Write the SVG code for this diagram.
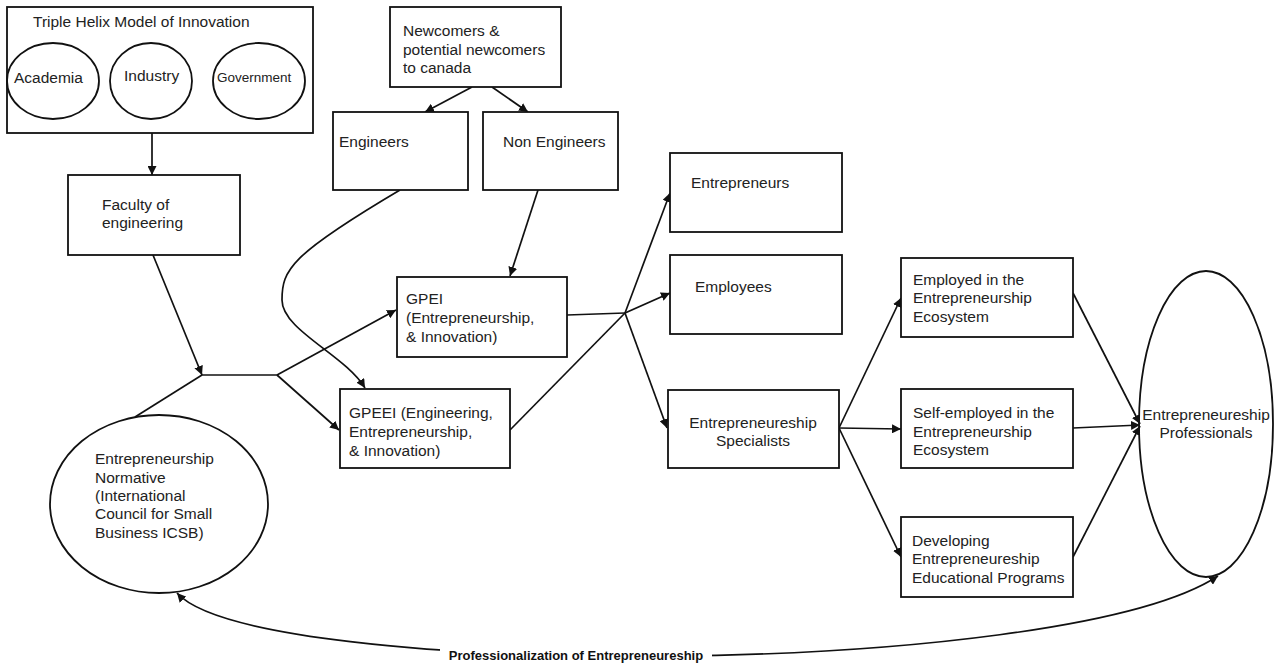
<svg xmlns="http://www.w3.org/2000/svg" width="1283" height="666" viewBox="0 0 1283 666">
  <defs>
    <marker id="arrow" viewBox="0 0 10 10" refX="10" refY="5" markerWidth="9" markerHeight="9" markerUnits="userSpaceOnUse" orient="auto-start-reverse">
      <path d="M0,0 L10,5 L0,10 z" fill="#111"/>
    </marker>
    <style>
      .box { fill: #fff; stroke: #111; stroke-width: 1.8; }
      .shape { fill: none; stroke: #111; stroke-width: 1.8; }
      .edge { fill: none; stroke: #111; stroke-width: 1.7; }
      .arr { marker-end: url(#arrow); }
      text { font-family: "Liberation Sans", Arial, sans-serif; font-size: 15.5px; fill: #222; }
      .small { font-size: 13.5px; }
      .mid { text-anchor: middle; }
      .bold { font-weight: bold; font-size: 13px; fill: #111; }
    </style>
  </defs>
  <rect width="1283" height="666" fill="#fff"/>

  <!-- connectors -->
  <g id="connectors">
    <line class="edge arr" x1="152" y1="133" x2="152" y2="175"/>
    <line class="edge arr" x1="472" y1="87" x2="425" y2="112"/>
    <line class="edge arr" x1="492" y1="87" x2="528" y2="112"/>
    <line class="edge arr" x1="538" y1="190" x2="510" y2="276"/>
    <path class="edge arr" d="M400,190 C290,255 282,270 282,300 C282,330 345,355 365,388"/>
    <line class="edge arr" x1="153" y1="255" x2="202" y2="375"/>
    <line class="edge" x1="135" y1="417" x2="202" y2="375"/>
    <line class="edge" x1="202" y1="375" x2="277" y2="375"/>
    <line class="edge arr" x1="277" y1="375" x2="396" y2="310"/>
    <line class="edge arr" x1="277" y1="375" x2="339" y2="430"/>
    <line class="edge" x1="567" y1="315" x2="625" y2="313"/>
    <line class="edge" x1="510" y1="430" x2="625" y2="313"/>
    <line class="edge arr" x1="625" y1="313" x2="670" y2="193"/>
    <line class="edge arr" x1="625" y1="313" x2="670" y2="293"/>
    <line class="edge arr" x1="625" y1="313" x2="667" y2="428"/>
    <line class="edge arr" x1="839" y1="428" x2="901" y2="298"/>
    <line class="edge arr" x1="839" y1="428" x2="901" y2="429"/>
    <line class="edge arr" x1="839" y1="428" x2="901" y2="557"/>
    <line class="edge arr" x1="1073" y1="293" x2="1140" y2="424"/>
    <line class="edge arr" x1="1073" y1="428" x2="1140" y2="425"/>
    <line class="edge arr" x1="1073" y1="557" x2="1140" y2="426"/>
    <path class="edge" d="M177,593 C255,680 1060,680 1218,576" marker-start="url(#arrow)" marker-end="url(#arrow)"/>
  </g>

  <!-- Triple Helix model -->
  <g id="triple-helix">
    <rect class="box" x="7" y="7" width="306" height="126"/>
    <text x="33" y="27">Triple Helix Model of Innovation</text>
    <ellipse class="shape" cx="53" cy="81" rx="46" ry="38"/>
    <text x="14" y="83">Academia</text>
    <ellipse class="shape" cx="151" cy="81" rx="41" ry="38"/>
    <text x="124" y="81">Industry</text>
    <ellipse class="shape" cx="259" cy="81" rx="46" ry="38"/>
    <text class="small" x="217" y="82">Government</text>
  </g>

  <g id="newcomers">
    <rect class="box" x="390" y="7" width="171" height="80"/>
    <text x="403" y="36">Newcomers &amp;</text>
    <text x="403" y="55">potential newcomers</text>
    <text x="403" y="73">to canada</text>
  </g>

  <g id="engineers">
    <rect class="box" x="333" y="112" width="135" height="78"/>
    <text x="339" y="147">Engineers</text>
  </g>

  <g id="non-engineers">
    <rect class="box" x="483" y="112" width="135" height="78"/>
    <text x="503" y="147">Non Engineers</text>
  </g>

  <g id="faculty">
    <rect class="box" x="68" y="175" width="172" height="80"/>
    <text x="102" y="210">Faculty of</text>
    <text x="102" y="228">engineering</text>
  </g>

  <g id="normative">
    <ellipse class="box" cx="159" cy="504" rx="109" ry="89"/>
    <text x="95" y="464">Entrepreneurship</text>
    <text x="95" y="483">Normative</text>
    <text x="95" y="501">(International</text>
    <text x="95" y="519">Council for Small</text>
    <text x="95" y="538">Business ICSB)</text>
  </g>

  <g id="gpei">
    <rect class="box" x="397" y="277" width="170" height="80"/>
    <text x="406" y="304">GPEI</text>
    <text x="406" y="323">(Entrepreneurship,</text>
    <text x="406" y="342">&amp; Innovation)</text>
  </g>

  <g id="gpeei">
    <rect class="box" x="340" y="389" width="170" height="79"/>
    <text x="349" y="418">GPEEI (Engineering,</text>
    <text x="349" y="437">Entrepreneurship,</text>
    <text x="349" y="456">&amp; Innovation)</text>
  </g>

  <g id="entrepreneurs">
    <rect class="box" x="670" y="153" width="172" height="79"/>
    <text x="691" y="188">Entrepreneurs</text>
  </g>

  <g id="employees">
    <rect class="box" x="670" y="255" width="172" height="79"/>
    <text x="695" y="292">Employees</text>
  </g>

  <g id="specialists">
    <rect class="box" x="668" y="390" width="171" height="78"/>
    <text class="mid" x="753" y="428">Entrepreneureship</text>
    <text class="mid" x="753" y="446">Specialists</text>
  </g>

  <g id="employed">
    <rect class="box" x="901" y="258" width="172" height="79"/>
    <text x="913" y="285">Employed in the</text>
    <text x="913" y="303">Entrepreneurship</text>
    <text x="913" y="322">Ecosystem</text>
  </g>

  <g id="self-employed">
    <rect class="box" x="901" y="389" width="172" height="79"/>
    <text x="913" y="418">Self-employed in the</text>
    <text x="913" y="437">Entrepreneurship</text>
    <text x="913" y="455">Ecosystem</text>
  </g>

  <g id="developing">
    <rect class="box" x="901" y="517" width="172" height="80"/>
    <text x="912" y="546">Developing</text>
    <text x="912" y="564">Entrepreneureship</text>
    <text x="912" y="583">Educational Programs</text>
  </g>

  <g id="professionals">
    <ellipse class="shape" cx="1206" cy="424" rx="67" ry="153"/>
    <text class="mid" x="1206" y="420">Entrepreneureship</text>
    <text class="mid" x="1206" y="438">Professionals</text>
  </g>

  <g id="professionalization-label">
    <rect x="440" y="645" width="272" height="20" fill="#fff"/>
    <text class="bold mid" x="576" y="660">Professionalization of Entrepreneureship</text>
  </g>
</svg>
